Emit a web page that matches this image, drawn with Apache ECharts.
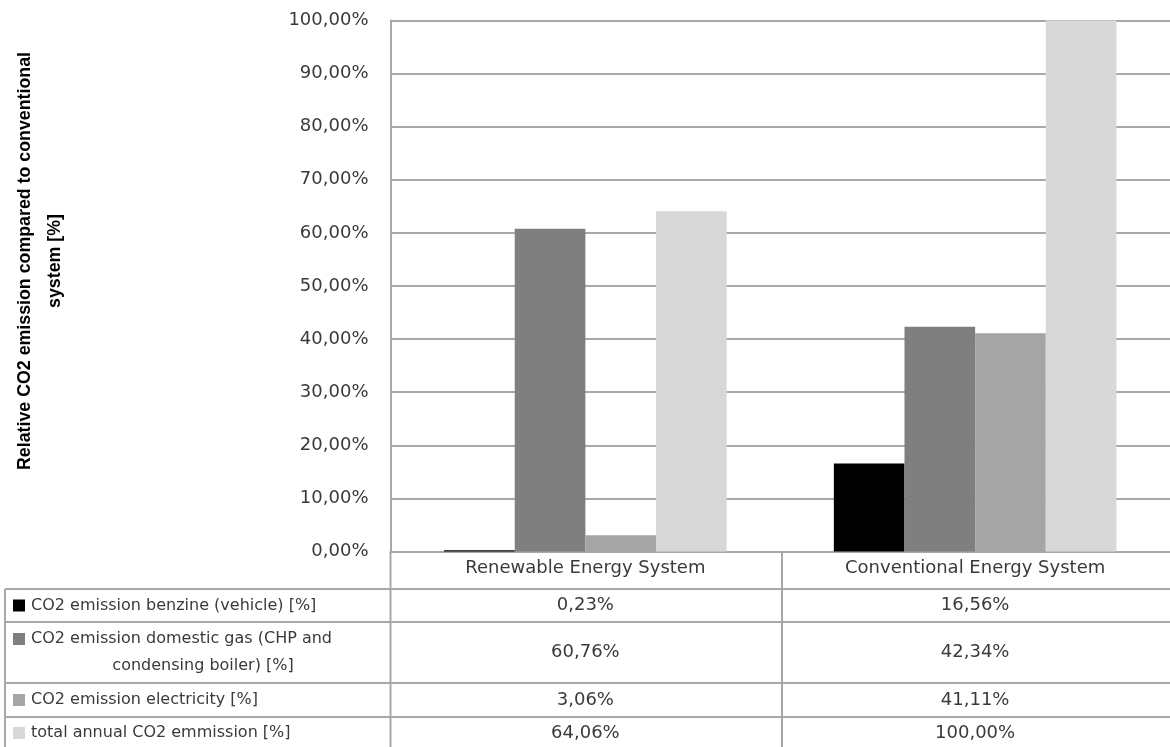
<!DOCTYPE html>
<html>
<head>
	<meta charset="utf-8">
	<title>Relative CO2 emission</title>
	<script src="https://cdn.jsdelivr.net/npm/echarts@6/dist/echarts.min.js"></script>
	<style>
		html, body { margin: 0; padding: 0; background: #fff; }
		#main { width: 1170px; height: 747px; }
	</style>
</head>
<body>
<div id="main"></div>
<script>
	// data
	var categories = ['Renewable Energy System', 'Conventional Energy System'];
	var seriesNames = [
		'CO2 emission benzine (vehicle) [%]',
		'CO2 emission domestic gas (CHP and condensing boiler) [%]',
		'CO2 emission electricity [%]',
		'total annual CO2 emmission [%]'
	];
	// the long name is wrapped in two lines in the table
	var rowLabels = [
		['CO2 emission benzine (vehicle) [%]'],
		['CO2 emission domestic gas (CHP and', 'condensing boiler) [%]'],
		['CO2 emission electricity [%]'],
		['total annual CO2 emmission [%]']
	];
	var benzine = [0.23, 16.56];
	var domesticGas = [60.76, 42.34];
	var electricity = [3.06, 41.11];
	var totalEmission = [64.06, 100.00];
	var colors = ['#000000', '#7f7f7f', '#a5a5a5', '#d8d8d8'];

	var allSeries = [benzine, domesticGas, electricity, totalEmission];

	function pct(v) {
		return v.toFixed(2).replace('.', ',') + '%';
	}

	var gridLeft = 390.5, gridTop = 20.5, gridW = 783, gridH = 531;
	var lineColor = '#a8a8a8';
	var textColor = '#3a3a3a';
	var numFont = '18px "DejaVu Sans"';
	var labelFont = '16px "DejaVu Sans"';
	var rowLines = [589, 622, 683, 717];     // table row borders
	var rowCenters = [[605.5], [639, 666], [700], [733]];

	var myChart = echarts.init(document.getElementById('main'));

	var option = {
		animation: false,
		grid: { left: gridLeft, top: gridTop, width: gridW, height: gridH, containLabel: false },
		xAxis: {
			type: 'category',
			data: categories,
			axisLine: { show: true, lineStyle: { color: lineColor, width: 2 } },
			axisTick: { show: false },
			axisLabel: {
				color: textColor, fontFamily: 'DejaVu Sans', fontSize: 18, margin: 8
			}
		},
		yAxis: {
			type: 'value',
			min: 0,
			max: 100,
			interval: 10,
			axisLine: { show: true, lineStyle: { color: lineColor, width: 2 } },
			axisTick: { show: false },
			splitLine: { lineStyle: { color: lineColor, width: 2 } },
			axisLabel: {
				color: textColor, fontFamily: 'DejaVu Sans', fontSize: 18, margin: 22,
				formatter: function (v) { return pct(v); }
			}
		},
		series: allSeries.map(function (d, i) {
			return {
				name: seriesNames[i],
				type: 'bar',
				data: d,
				barGap: '0%',
				barCategoryGap: '27.5%',
				itemStyle: { color: colors[i] }
			};
		})
	};
	myChart.setOption(option);

	// data table under the chart
	var g = [];
	var bottom = 747;
	rowLines.forEach(function (y) {
		g.push({ type: 'line', shape: { x1: 5, y1: y, x2: 1170, y2: y }, style: { stroke: lineColor, lineWidth: 2 } });
	});
	g.push({ type: 'line', shape: { x1: 5, y1: rowLines[0], x2: 5, y2: bottom }, style: { stroke: lineColor, lineWidth: 2 } });
	g.push({ type: 'line', shape: { x1: gridLeft, y1: gridTop + gridH, x2: gridLeft, y2: bottom }, style: { stroke: lineColor, lineWidth: 2 } });
	var sepX = gridLeft + gridW / 2;
	g.push({ type: 'line', shape: { x1: sepX, y1: gridTop + gridH, x2: sepX, y2: bottom }, style: { stroke: lineColor, lineWidth: 2 } });

	rowLabels.forEach(function (lines, r) {
		var cy = rowCenters[r];
		g.push({ type: 'rect', shape: { x: 13, y: cy[0] - 6, width: 12, height: 12 }, style: { fill: colors[r] } });
		lines.forEach(function (t, k) {
			if (k === 0) {
				g.push({ type: 'text', x: 31, y: cy[k], style: { text: t, font: labelFont, fill: textColor, align: 'left', verticalAlign: 'middle' } });
			} else {
				g.push({ type: 'text', x: 203, y: cy[k], style: { text: t, font: labelFont, fill: textColor, align: 'center', verticalAlign: 'middle' } });
			}
		});
		var midY = (rowLines[r] + (rowLines[r + 1] || (rowLines[r] + 33))) / 2;
		categories.forEach(function (c, i) {
			var px = myChart.convertToPixel({ xAxisIndex: 0 }, i);
			g.push({ type: 'text', x: px, y: midY, style: { text: pct(allSeries[r][i]), font: numFont, fill: textColor, align: 'center', verticalAlign: 'middle' } });
		});
	});

	// y axis title
	g.push({
		type: 'text', x: 40, y: 261, rotation: Math.PI / 2,
		style: {
			text: 'Relative CO2 emission compared to conventional\nsystem [%]',
			font: 'bold 17.8px "Liberation Sans"', fill: '#000', align: 'center', verticalAlign: 'middle', lineHeight: 30
		}
	});

	myChart.setOption({ graphic: g });
</script>
</body>
</html>
